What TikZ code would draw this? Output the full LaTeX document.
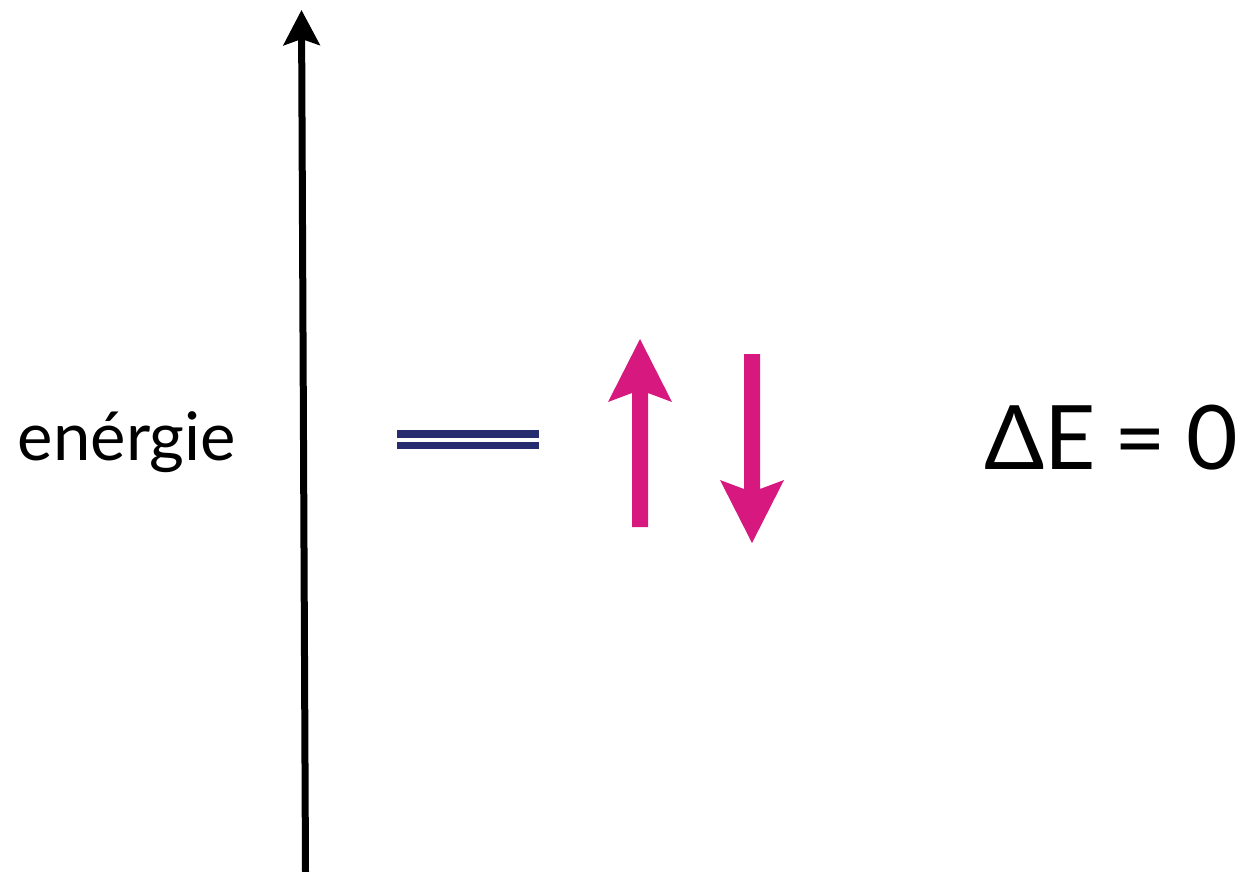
\documentclass[tikz,border=0pt]{standalone}
\usepackage{fontspec}
\setmainfont{Lato}
\usetikzlibrary{arrows.meta}
\definecolor{spinpink}{RGB}{214,24,127}
\definecolor{levelblue}{RGB}{38,44,110}
\begin{document}
\begin{tikzpicture}[x=1pt,y=-1pt,
  lbl/.style={inner sep=0pt,outer sep=0pt,font=\fontsize{67}{70}\selectfont},
  bigl/.style={inner sep=0pt,outer sep=0pt,font=\fontsize{89}{94}\selectfont},
  level/.style={fill=levelblue},
  spin/.style={fill=spinpink}]
\useasboundingbox (0,0) rectangle (1247,872);
% energy axis
\coordinate (abot) at (305.5,872);
\coordinate (atop) at (301.5,10);
\draw[line width=7pt, -{Stealth[length=35pt,width=36pt,inset=6pt]}] (abot) -- (atop);
\node[lbl,anchor=base] (energie) at (127,460) {enérgie};
% degenerate level
\fill[level] (397,430) rectangle (539,438);
\fill[level] (397,442) rectangle (539,449);
% spin up
\fill[spin] (632,527) -- (632,393) -- (608,402) -- (640,339) -- (672,402) -- (648,393) -- (648,527) -- cycle;
% spin down
\fill[spin] (744,354) -- (744,489) -- (720,480) -- (752,543) -- (784,480) -- (760,489) -- (760,354) -- cycle;
\node[bigl,anchor=base east] (de) at (1238,469) {ΔE\hspace{-0.05em} =\hspace{-0.03em} 0};
\end{tikzpicture}
\end{document}
